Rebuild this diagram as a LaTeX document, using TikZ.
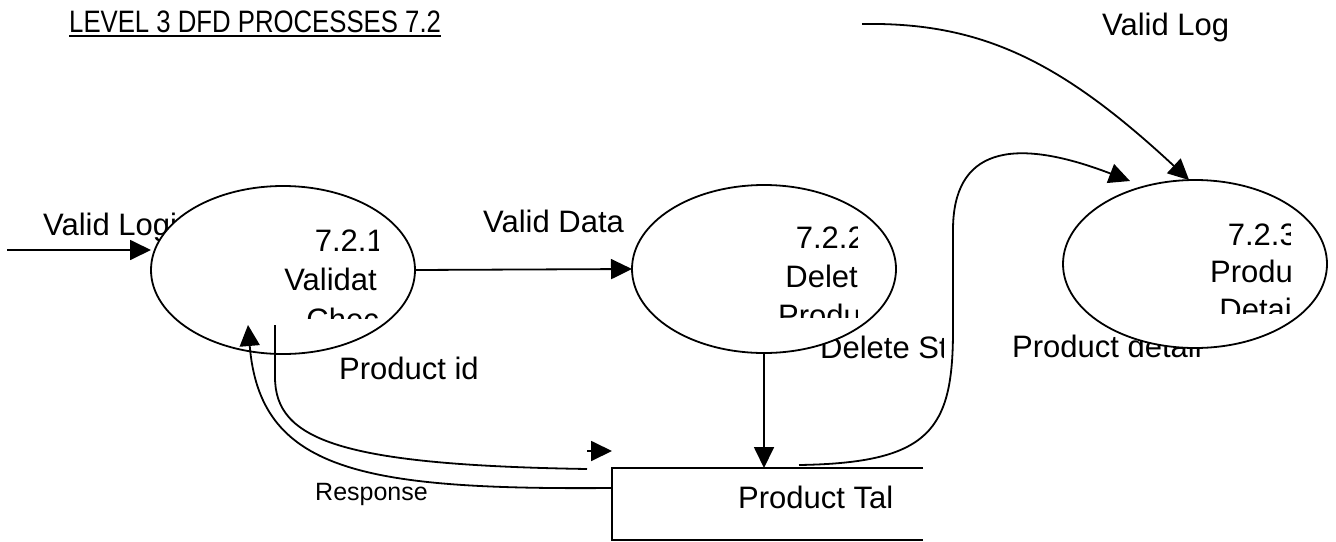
\documentclass[tikz,border=0pt]{standalone}
\usepackage{fontspec}
\setmainfont{Liberation Sans}
\newfontfamily\titlefont[FakeStretch=0.83]{Liberation Sans}
\usetikzlibrary{shapes.geometric,arrows.meta}
\begin{document}
\begin{tikzpicture}[x=1pt,y=-1pt,
  proc/.style={ellipse, draw, fill=white, line width=1.8pt, minimum width=264pt, minimum height=168pt, inner sep=0pt, outer sep=0pt},
  flow/.style={line width=1.8pt, -{Triangle[length=21pt,width=20pt]}},
  plain/.style={line width=1.8pt},
  lbl/.style={inner sep=0pt, font=\fontsize{31}{38}\selectfont},
  smalllbl/.style={inner sep=0pt, font=\fontsize{25}{30}\selectfont},
]
\fill[white] (0,0) rectangle (1336,541);
\useasboundingbox (0,0) rectangle (1336,541);

% title
\node[anchor=base west, inner sep=0pt, font=\titlefont\fontsize{31}{38}\selectfont] (title) at (69,32) {LEVEL 3 DFD PROCESSES 7.2};
\draw[line width=1.8pt] ([yshift=-4pt]title.base west) -- ([yshift=-4pt]title.base east);

% labels partly hidden by the processes
\node[lbl, anchor=base west] (lValidLogi) at (43,235) {Valid Logi};
\begin{scope}
  \clip (800,300) rectangle (943,380);
  \node[lbl, anchor=base west] (lDelete) at (820,358) {Delete St};
\end{scope}
\node[lbl, anchor=base west] (lPdetail) at (1012,357) {Product detail};

% processes
\node[proc] (p1) at (283,270) {};
\node[proc] (p2) at (764,269) {};
\node[proc] (p3) at (1195,264) {};

% process texts (clipped)
\begin{scope}
  \clip (183,200) rectangle (378,318);
  \node[lbl, anchor=base east] (t1a) at (384,251) {7.2.1};
  \node[lbl, anchor=base east] (t1b) at (377,290) {Validat};
  \node[lbl, anchor=base east] (t1c) at (379,330) {Chec};
\end{scope}
\begin{scope}
  \clip (664,200) rectangle (857,317);
  \node[lbl, anchor=base east] (t2a) at (865,248) {7.2.2};
  \node[lbl, anchor=base east] (t2b) at (858,287) {Delet};
  \node[lbl, anchor=base east] (t2c) at (861,326) {Produ};
\end{scope}
\begin{scope}
  \clip (1095,200) rectangle (1290,313);
  \node[lbl, anchor=base east] (t3a) at (1297,245) {7.2.3};
  \node[lbl, anchor=base east] (t3b) at (1293,282) {Produ};
  \node[lbl, anchor=base east] (t3c) at (1292,320) {Detai};
\end{scope}

% data store
\node[minimum width=311pt, minimum height=72pt, inner sep=0pt, outer sep=0pt, anchor=north west] (store) at (612,468) {};
\draw[plain] (store.north east) -- (store.north west) -- (store.south west) -- (store.south east);
\node[lbl, anchor=base west] (lTable) at (738,508) {Product Tal};

% other labels
\node[lbl, anchor=base west] (lValidData) at (483,232) {Valid Data};
\node[lbl, anchor=base west] (lProdId) at (339,379) {Product id};
\node[smalllbl, anchor=base west] (lResponse) at (315,500) {Response};
\node[lbl, anchor=base west] (lValidLog) at (1102,35) {Valid Log};

% connectors
\coordinate (inL) at (7,250);
\draw[flow] (inL) -- (inL -| p1.west);
\draw[flow] (p1.east) -- (p2.west);
\draw[flow] (p2.south) -- (p2.south |- store.north);

\coordinate (pidS) at (275,325);
\coordinate (pidE) at (587,469);
\draw[plain] (pidS) -- (275,377) .. controls (275,440) and (340,465) .. (pidE);
\coordinate (pidA) at (587,451);
\coordinate (pidB) at (612,451);
\draw[flow] (pidA) -- (pidB);

\coordinate (respS) at (611,488);
\coordinate (respE) at (248,325);
\draw[flow] (respS) .. controls (360,490) and (260,470) .. (respE);

\coordinate (pdS) at (799,465);
\coordinate (pdE) at (1130,181);
\draw[flow] (pdS) .. controls (930,463) and (953,430) .. (953,330) -- (953,230) .. controls (953,150) and (1010,135) .. (pdE);

\coordinate (vlS) at (862,24);
\draw[flow] (vlS) .. controls (980,22) and (1060,60) .. (p3.94);
\end{tikzpicture}
\end{document}
